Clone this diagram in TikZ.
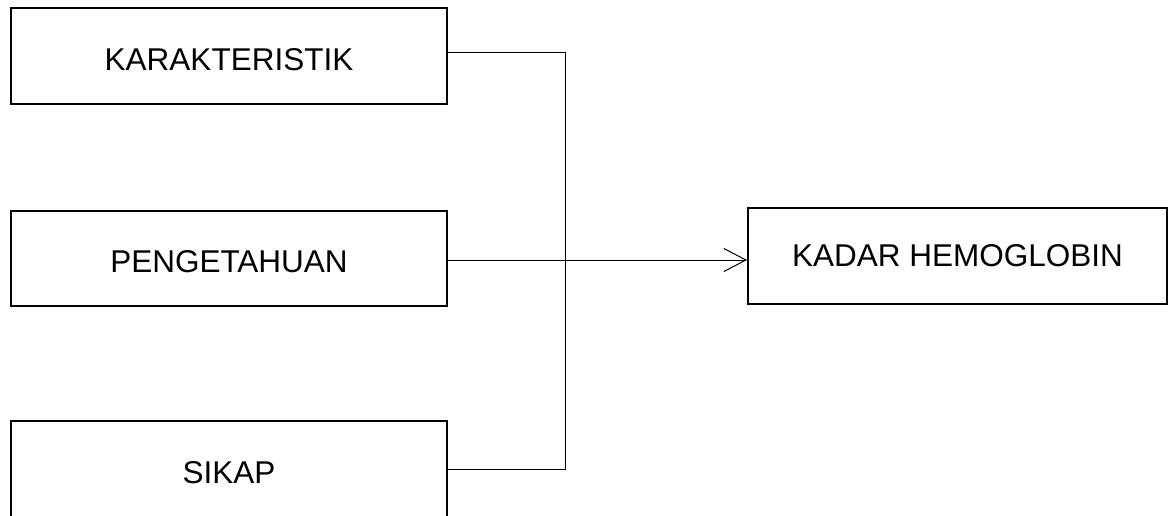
\documentclass[tikz,border=0pt]{standalone}
\usepackage{fontspec}
\setmainfont{Liberation Sans}
\usetikzlibrary{arrows.meta}
\tikzset{
  box/.style={draw, line width=2pt, inner sep=0pt, minimum width=436pt,
    minimum height=95.5pt, font=\fontsize{31.5}{38}\selectfont},
  lowtext/.style={text height=28pt, text depth=0pt},
  link/.style={draw, line width=1pt},
}
\begin{document}
\begin{tikzpicture}[x=1pt, y=-1pt]
  \useasboundingbox (0,0) rectangle (1172,515);
  \clip (0,0) rectangle (1172,515);
  % input factors
  \node[box, lowtext] (k) at (229,56) {KARAKTERISTIK};
  \node[box, lowtext] (p) at (229,258.7) {PENGETAHUAN};
  \node[box, lowtext] (s) at (229,469) {SIKAP};
  % outcome
  \node[box, minimum width=419pt, minimum height=96pt] (h) at (957.5,256) {KADAR HEMOGLOBIN};
  % bracket joining the three factors
  \coordinate (j1) at (565,52);
  \coordinate (j2) at (565,469);
  \coordinate (m) at (565,260);
  \draw[link] (k.east |- j1) -- (j1) -- (j2) -- (s.east |- j2);
  \draw[link, -{Straight Barb[length=22pt, width=23pt, line width=1pt]}]
    (p.east |- m) -- (h.west |- m);
\end{tikzpicture}
\end{document}
